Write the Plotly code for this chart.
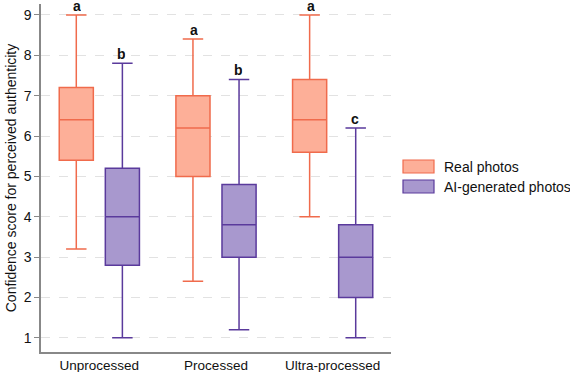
import plotly.graph_objects as go

categories = ["Unprocessed", "Processed", "Ultra-processed"]
real_lower = [3.2, 2.4, 4.0]
real_q1 = [5.4, 5.0, 5.6]
real_median = [6.4, 6.2, 6.4]
real_q3 = [7.2, 7.0, 7.4]
real_upper = [9.0, 8.4, 9.0]
ai_lower = [1.0, 1.2, 1.0]
ai_q1 = [2.8, 3.0, 2.0]
ai_median = [4.0, 3.8, 3.0]
ai_q3 = [5.2, 4.8, 3.8]
ai_upper = [7.8, 7.4, 6.2]
real_letters = ["a", "a", "a"]
ai_letters = ["b", "b", "c"]
series_names = ["Real photos", "AI-generated photos"]

REAL_FILL = "#FDAF98"
REAL_LINE = "#F06B4C"
AI_FILL = "#A898CE"
AI_LINE = "#5A3A9C"
FONT = "Liberation Sans, Arial, Helvetica, sans-serif"

fig = go.Figure()
fig.add_trace(go.Box(
    x=categories, q1=real_q1, median=real_median, q3=real_q3,
    lowerfence=real_lower, upperfence=real_upper, name=series_names[0],
    fillcolor=REAL_FILL, line=dict(color=REAL_LINE, width=1.5),
    whiskerwidth=0.6, showlegend=False, hoverinfo="skip",
))
fig.add_trace(go.Box(
    x=categories, q1=ai_q1, median=ai_median, q3=ai_q3,
    lowerfence=ai_lower, upperfence=ai_upper, name=series_names[1],
    fillcolor=AI_FILL, line=dict(color=AI_LINE, width=1.5),
    whiskerwidth=0.6, showlegend=False, hoverinfo="skip",
))

L, R = 41, 391
W = 570
H = 372
Tm, Bm = 4, 20
ph = H - Tm - Bm

def px_to_paper_x(px):
    return (px - L) / (R - L)

def px_to_paper_y(py):
    return 1 - (py - Tm) / ph

# significance letters
offset = 22 / ((R - L) / 3)  # category units
for i, c in enumerate(categories):
    fig.add_annotation(x=i - offset, y=real_upper[i], text="<b>%s</b>" % real_letters[i],
                       showarrow=False, yanchor="bottom", yshift=2, height=12, borderpad=0,
                       font=dict(size=14, color="#111", family=FONT))
    fig.add_annotation(x=i + offset, y=ai_upper[i], text="<b>%s</b>" % ai_letters[i],
                       showarrow=False, yanchor="bottom", yshift=2, height=12, borderpad=0,
                       font=dict(size=14, color="#111", family=FONT))

# custom legend
leg = [(series_names[0], REAL_FILL, REAL_LINE, 160, 173),
       (series_names[1], AI_FILL, AI_LINE, 180, 193)]
for name, fc, lc, y0, y1 in leg:
    fig.add_shape(type="rect", xref="paper", yref="paper",
                  x0=px_to_paper_x(403), x1=px_to_paper_x(434),
                  y0=px_to_paper_y(y1), y1=px_to_paper_y(y0),
                  fillcolor=fc, line=dict(color=lc, width=1.2))
    fig.add_annotation(xref="paper", yref="paper", x=px_to_paper_x(442),
                       y=px_to_paper_y((y0 + y1) / 2), text=name,
                       showarrow=False, xanchor="left", yanchor="middle",
                       font=dict(size=14, color="#111", family=FONT))

fig.update_layout(
    width=W, height=H,
    margin=dict(l=L, r=W - R, t=Tm, b=Bm),
    boxmode="group", boxgap=0.21, boxgroupgap=0.26,
    plot_bgcolor="white", paper_bgcolor="white",
    font=dict(family=FONT, size=14, color="#111"),
)
fig.update_xaxes(
    range=[-0.5, 2.5], showline=True, linecolor="#888", linewidth=1.5,
    ticks="", showgrid=False, tickfont=dict(size=13.5, color="#111"),
    automargin=False,
)
fig.update_yaxes(
    range=[0.65, 9.27], tickvals=[1, 2, 3, 4, 5, 6, 7, 8, 9],
    showline=True, linecolor="#888", linewidth=1.5,
    ticks="outside", ticklen=5, tickcolor="#888",
    showgrid=True, gridcolor="#e2e2e2", griddash="dash", gridwidth=1,
    zeroline=False, tickfont=dict(size=14, color="#111"),
    title=dict(text="Confidence score for perceived authenticity",
               font=dict(size=14, color="#111"), standoff=4),
    automargin=False,
)

fig.write_html("out.html", config={"displayModeBar": False},
               post_script="document.body.style.margin='0px';")
